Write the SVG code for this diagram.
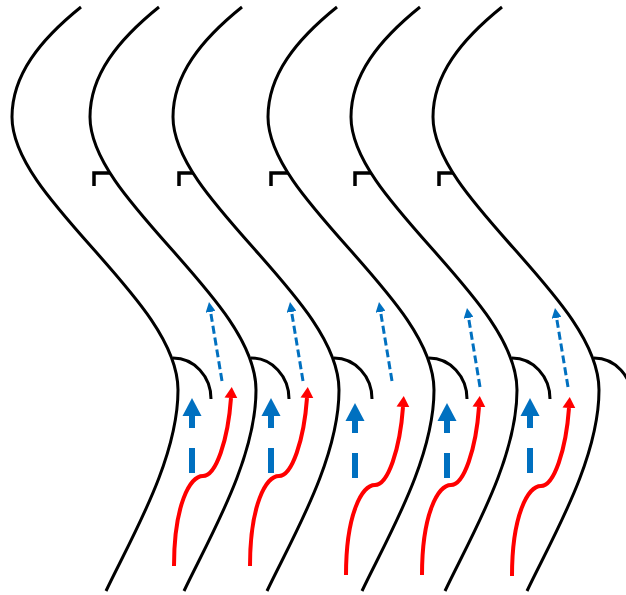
<svg xmlns="http://www.w3.org/2000/svg" xmlns:xlink="http://www.w3.org/1999/xlink" width="626" height="595" viewBox="0 0 626 595">
<style>
.wall{fill:none;stroke:#000;stroke-width:3}
.arc{fill:none;stroke:#000;stroke-width:3}
.brk{fill:none;stroke:#000;stroke-width:3.5;stroke-linejoin:miter}
.thin{fill:none;stroke:#0070C0;stroke-width:3;stroke-dasharray:8 4}
.red{fill:none;stroke:#FF0000;stroke-width:4}
.thick{fill:#0070C0}
</style>
<defs>
<marker id="hb" markerUnits="userSpaceOnUse" markerWidth="10" markerHeight="10" refX="0" refY="5" orient="auto"><path d="M0,0 L10,5 L0,10 z" fill="#0070C0"/></marker>
<marker id="hr" markerUnits="userSpaceOnUse" markerWidth="12" markerHeight="14" refX="0" refY="7" orient="auto"><path d="M0,0.5 L11,7 L0,13.5 z" fill="#FF0000"/></marker>
<path id="curve" class="wall" d="M81,7 C40,40 12,75 12,117 C12,200 178,300 178,390 C178,460 130,540 106,591"/>
<path id="flap" class="arc" d="M173,358 A38,41 0 0 1 211,399"/>
<g id="thickArrow"><polygon points="0,0 9.5,18 -9.5,18"/><rect x="-3" y="17.5" width="6" height="12.5"/><rect x="-3" y="50" width="6" height="25"/></g>
</defs>

<g id="wall1"><use xlink:href="#curve"/><use xlink:href="#flap"/></g>
<g id="wall2" transform="translate(78,0)"><use xlink:href="#curve"/><use xlink:href="#flap"/></g>
<g id="wall3" transform="translate(161,0)"><use xlink:href="#curve"/><use xlink:href="#flap"/></g>
<g id="wall4" transform="translate(256,0)"><use xlink:href="#curve"/><use xlink:href="#flap"/></g>
<g id="wall5" transform="translate(339,0)"><use xlink:href="#curve"/><use xlink:href="#flap"/></g>
<g id="wall6" transform="translate(421,0)"><use xlink:href="#curve"/><use xlink:href="#flap"/></g>

<g id="brackets">
<path class="brk" d="M94,186 V173 H110"/>
<path class="brk" d="M179,186 V173 H193"/>
<path class="brk" d="M271,186 V173 H288"/>
<path class="brk" d="M355,186 V173 H371"/>
<path class="brk" d="M439,186 V173 H453"/>
</g>

<g id="connectors">
<g id="thin-arrows">
<path class="thin" d="M222,381 L210.6,311.9" marker-end="url(#hb)"/>
<path class="thin" d="M303,381 L291.6,311.9" marker-end="url(#hb)"/>
<path class="thin" d="M392,381 L380.6,311.9" marker-end="url(#hb)"/>
<path class="thin" d="M480,387 L468.6,317.9" marker-end="url(#hb)"/>
<path class="thin" d="M568,387 L556.6,317.9" marker-end="url(#hb)"/>
</g>
<g id="red-arrows">
<path class="red" d="M174,566 C174,505 190,476 203,476 C216,476 228,440 231,398" marker-end="url(#hr)"/>
<path class="red" transform="translate(76,0)" d="M174,566 C174,505 190,476 203,476 C216,476 228,440 231,398" marker-end="url(#hr)"/>
<path class="red" transform="translate(172,9)" d="M174,566 C174,505 190,476 203,476 C216,476 228,440 231,398" marker-end="url(#hr)"/>
<path class="red" transform="translate(248,9)" d="M174,566 C174,505 190,476 203,476 C216,476 228,440 231,398" marker-end="url(#hr)"/>
<path class="red" transform="translate(338,10)" d="M174,566 C174,505 190,476 203,476 C216,476 228,440 231,398" marker-end="url(#hr)"/>
</g>
<g id="thick-arrows" class="thick">
<use xlink:href="#thickArrow" x="192" y="398"/>
<use xlink:href="#thickArrow" x="271" y="398"/>
<use xlink:href="#thickArrow" x="355" y="403"/>
<use xlink:href="#thickArrow" x="447" y="403"/>
<use xlink:href="#thickArrow" x="530" y="398"/>
</g>
</g>
</svg>
